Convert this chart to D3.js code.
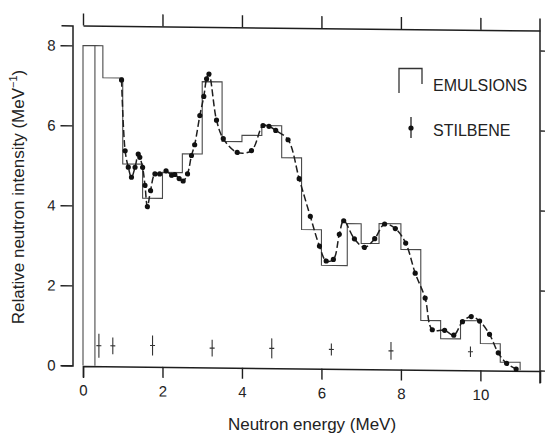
<!DOCTYPE html>
<html>
<head>
<meta charset="utf-8">
<script src="https://cdn.jsdelivr.net/npm/d3@7"></script>
<style>
  html, body { margin: 0; padding: 0; background: #fff; }
  svg { display: block; font-family: "Liberation Sans", Arial, Helvetica, sans-serif; }
</style>
</head>
<body>
<svg id="chart" width="545" height="435"></svg>
<script>
// Emulsion histogram: bin edges (MeV) and intensity in each bin (MeV^-1)
const emulsionEdges  = [0, 0.3, 0.5, 1.0, 1.5, 2.0, 2.5, 3.0, 3.5, 4.0, 4.5, 5.0, 5.5, 6.0, 6.65, 7.0, 7.45, 8.0, 8.5, 9.0, 9.5, 10.0, 10.5, 11.0];
const emulsionValues = [8.0, 8.0, 7.2, 5.05, 4.2, 4.85, 5.32, 7.13, 5.64, 5.8, 6.05, 5.25, 3.46, 2.57, 3.62, 3.13, 3.63, 2.99, 1.22, 0.77, 1.23, 0.66, 0.2];

// Stilbene spectrometer measurements
const stilbeneEnergy = [0.97, 1.06, 1.14, 1.22, 1.31, 1.39, 1.43, 1.50, 1.56, 1.62, 1.70, 1.81, 1.93, 2.09, 2.23, 2.31, 2.42, 2.52, 2.63, 2.73, 2.81, 2.94, 3.04, 3.11, 3.17, 3.36, 3.53, 3.88, 4.24, 4.53, 4.68, 4.85, 5.16, 5.44, 5.72, 5.95, 6.12, 6.30, 6.45, 6.56, 6.83, 7.08, 7.34, 7.59, 7.86, 8.12, 8.36, 8.61, 8.79, 9.10, 9.33, 9.55, 9.77, 9.98, 10.23, 10.45, 10.66, 10.90];
const stilbeneIntensity = [7.15, 5.38, 4.97, 4.72, 4.97, 5.30, 5.22, 4.97, 4.52, 3.99, 4.39, 4.81, 4.81, 4.89, 4.78, 4.80, 4.70, 4.64, 4.82, 5.28, 5.55, 6.28, 6.76, 7.20, 7.32, 6.17, 5.71, 5.37, 5.42, 6.05, 6.03, 5.93, 5.70, 4.73, 3.79, 3.05, 2.68, 2.72, 3.35, 3.69, 3.24, 3.03, 3.25, 3.62, 3.51, 3.15, 2.40, 1.78, 0.99, 0.98, 0.86, 1.20, 1.33, 1.22, 0.89, 0.43, 0.17, 0.03];

// Representative uncertainty markers along the spectrum
const errEnergy    = [0.4, 0.75, 1.75, 3.25, 4.75, 6.25, 7.75, 9.75];
const errIntensity = [0.5, 0.5, 0.52, 0.47, 0.48, 0.47, 0.45, 0.45];
const errHalf      = [0.3, 0.21, 0.25, 0.21, 0.25, 0.15, 0.22, 0.13];

const xTicks = [0, 2, 4, 6, 8, 10];
const yTicks = [0, 2, 4, 6, 8];
const legendLabels = ["EMULSIONS", "STILBENE"];
const xTitle = "Neutron energy (MeV)";

const ink = "#1e1e1e";
const svg = d3.select("#chart");

// slight vertical shear of the whole plate
const shear = 0.011, shearOrigin = 83;
const g = svg.append("g")
  .attr("transform", `matrix(1, ${shear}, 0, 1, 0, ${-shear * shearOrigin})`);

const x = d3.scaleLinear().domain([0, 11.5]).range([83, 540]);
const y = d3.scaleLinear().domain([0, 8.5]).range([365.5, 25.5]);

function styleAxis(sel, fontSize) {
  sel.selectAll("path.domain").attr("stroke", ink).attr("stroke-width", 1.5);
  sel.selectAll(".tick line").attr("stroke", ink).attr("stroke-width", 1.4);
  sel.selectAll(".tick text").attr("fill", "#222").attr("font-size", fontSize)
     .attr("font-family", "\"Liberation Sans\", Arial, sans-serif");
}

// left axis, offset from the plotting area
const yAxis = g.append("g").attr("transform", "translate(72.5,0)")
  .call(d3.axisLeft(y).tickValues(yTicks).tickSize(12).tickSizeOuter(11).tickPadding(5).tickFormat(d3.format("d")));
styleAxis(yAxis, 15);

// bottom axis
const xAxis = g.append("g").attr("transform", "translate(0,366)")
  .call(d3.axisBottom(x).tickValues(xTicks).tickSize(11).tickSizeOuter(12).tickPadding(8).tickFormat(d3.format("d")));
styleAxis(xAxis, 15);

// top axis (ticks only)
const topAxis = g.append("g").attr("transform", "translate(0,25.5)")
  .call(d3.axisTop(x).tickValues(xTicks).tickSize(12).tickSizeOuter(0).tickFormat(""));
styleAxis(topAxis, 0);

// right axis (ticks only), frame line running past both ends
const rightAxis = g.append("g").attr("transform", "translate(540.5,0)")
  .call(d3.axisRight(y).tickValues(yTicks).tickSize(7).tickSizeOuter(0).tickFormat(""));
styleAxis(rightAxis, 0);
rightAxis.select("path.domain").remove();
g.append("line")
  .attr("x1", x(11.5)).attr("x2", x(11.5))
  .attr("y1", y(0) + 13).attr("y2", y(8.5) - 12)
  .attr("stroke", ink).attr("stroke-width", 1.5);

// axis titles
svg.append("text")
  .attr("x", 312).attr("y", 430)
  .attr("text-anchor", "middle")
  .attr("font-size", 17).attr("fill", "#222")
  .text(xTitle);

const yTitle = svg.append("text")
  .attr("transform", "translate(24,197) rotate(-90)")
  .attr("text-anchor", "middle")
  .attr("font-size", 17).attr("fill", "#222");
yTitle.append("tspan").text("Relative neutron intensity (MeV");
yTitle.append("tspan").attr("dy", -7).attr("font-size", 11).text("−1");
yTitle.append("tspan").attr("dy", 7).text(")");

// emulsion histogram as a stepped outline
const stepPts = [[emulsionEdges[0], 0]];
emulsionValues.forEach((v, i) => {
  stepPts.push([emulsionEdges[i], v], [emulsionEdges[i + 1], v]);
});
stepPts.push([emulsionEdges[emulsionEdges.length - 1], 0]);

const stepLine = d3.line().x(d => x(d[0])).y(d => y(d[1]));
g.append("path")
  .attr("d", stepLine(stepPts))
  .attr("fill", "none").attr("stroke", "#4a4a4a").attr("stroke-width", 1.1);

// the lowest bin is closed down to the axis
g.append("line")
  .attr("x1", x(emulsionEdges[1])).attr("x2", x(emulsionEdges[1]))
  .attr("y1", y(0)).attr("y2", y(Math.min(emulsionValues[0], emulsionValues[1])))
  .attr("stroke", "#4a4a4a").attr("stroke-width", 1.1);

// stilbene curve and points
const stil = stilbeneEnergy.map((e, i) => [e, stilbeneIntensity[i]]);
const curve = d3.line().x(d => x(d[0])).y(d => y(d[1])).curve(d3.curveCatmullRom.alpha(0.5));
g.append("path")
  .attr("d", curve(stil))
  .attr("fill", "none").attr("stroke", ink).attr("stroke-width", 1.5)
  .attr("stroke-dasharray", "7,3");

g.append("g").selectAll("circle").data(stil).join("circle")
  .attr("cx", d => x(d[0])).attr("cy", d => y(d[1])).attr("r", 2.6)
  .attr("fill", "#111");

// uncertainty markers
const errG = g.append("g").attr("stroke", "#333").attr("stroke-width", 1.1);
errEnergy.forEach((e, i) => {
  const cx = x(e);
  errG.append("line").attr("x1", cx).attr("x2", cx)
    .attr("y1", y(errIntensity[i] - errHalf[i])).attr("y2", y(errIntensity[i] + errHalf[i]));
  errG.append("line").attr("x1", cx - 2.5).attr("x2", cx + 2.5)
    .attr("y1", y(errIntensity[i])).attr("y2", y(errIntensity[i]));
});

// legend
const leg = svg.append("g");
leg.append("path")
  .attr("d", "M399,93 V68.5 H422 V84")
  .attr("fill", "none").attr("stroke", "#333").attr("stroke-width", 1.3);
leg.append("text").attr("x", 433).attr("y", 91).attr("font-size", 16).attr("fill", "#222")
  .text(legendLabels[0]);
leg.append("line").attr("x1", 411).attr("x2", 411).attr("y1", 117).attr("y2", 138)
  .attr("stroke", "#222").attr("stroke-width", 1.3);
leg.append("circle").attr("cx", 411).attr("cy", 128).attr("r", 2.6).attr("fill", "#111");
leg.append("text").attr("x", 433).attr("y", 136).attr("font-size", 16).attr("fill", "#222")
  .text(legendLabels[1]);
</script>
</body>
</html>
